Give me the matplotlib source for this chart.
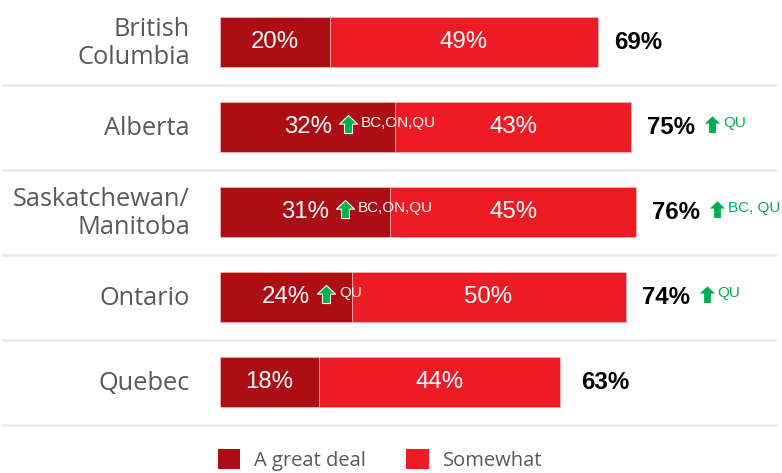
import matplotlib
matplotlib.use("Agg")
import matplotlib.pyplot as plt
from matplotlib.path import Path
from matplotlib.transforms import ScaledTranslation
from matplotlib.patches import Patch

# Survey results by province
regions = ["British\nColumbia", "Alberta", "Saskatchewan/\nManitoba", "Ontario", "Quebec"]
great_deal = [20, 32, 31, 24, 18]
somewhat = [49, 43, 45, 50, 44]
totals = [69, 75, 76, 74, 63]
# significance notes: (on "a great deal" segment, on total)
great_deal_notes = ["", "BC,ON,QU", "BC,ON,QU", "QU", ""]
total_notes = ["", "QU", "BC, QU", "QU", ""]
legend_labels = ["A great deal", "Somewhat"]

DARK = "#AD0E13"
BRIGHT = "#ED1C24"
GREEN = "#00B050"
GRAY = "#595959"
LINE = "#E8E8E8"

W, H = 782, 473
fig = plt.figure(figsize=(W / 100, H / 100), dpi=100)
ax = fig.add_axes([220 / W, (H - 424.5) / H, (W - 220) / W, 425 / H])
ax.set_xlim(0, (W - 220) / 5.48)
ax.set_ylim(4.5, -0.5)
ax.axis("off")

ypos = list(range(len(regions)))
edge = dict(edgecolor="#F2B8B8", linewidth=0.5)
b1 = ax.barh(ypos, great_deal, height=0.59, color=DARK, **edge)
b2 = ax.barh(ypos, somewhat, left=great_deal, height=0.59, color=BRIGHT, **edge)

# separators between rows
for y in [i + 0.5 for i in ypos]:
    ax.plot([-218 / 5.48, (W - 225) / 5.48], [y, y], color=LINE, lw=1.8,
            clip_on=False, solid_capstyle="butt", zorder=0)

# block-arrow marker
arrow = Path([(-0.22, -0.5), (0.22, -0.5), (0.22, 0.02), (0.5, 0.02),
              (0.0, 0.5), (-0.5, 0.02), (-0.22, 0.02), (-0.22, -0.5)],
             [Path.MOVETO] + [Path.LINETO] * 6 + [Path.CLOSEPOLY])


def offset(dx_px, dy_px):
    return ax.transData + ScaledTranslation(dx_px / 100, dy_px / 100, fig.dpi_scale_trans)


lab_font = dict(family=["Liberation Sans", "DejaVu Sans"])
for i, (g, s, t) in enumerate(zip(great_deal, somewhat, totals)):
    ax.text(g / 2, i, f"{g}%", color="white", fontsize=17.3, ha="center", va="center", **lab_font)
    ax.text(g + s / 2, i, f"{s}%", color="white", fontsize=17.3, ha="center", va="center", **lab_font)
    ax.text(t, i, f"{t}%", color="black", fontsize=17.3, fontweight="bold", ha="left", va="center",
            transform=offset(16, 0), **lab_font)
    if great_deal_notes[i]:
        ax.plot([g / 2], [i], marker=arrow, markersize=13, color=GREEN,
                markeredgecolor="white", markeredgewidth=0.8, transform=offset(40, 3.5))
        ax.text(g / 2, i, great_deal_notes[i], color="white", fontsize=11, ha="left", va="center",
                transform=offset(53, 4.5), **lab_font)
    if total_notes[i]:
        ax.plot([t], [i], marker=arrow, markersize=13, color=GREEN,
                markeredgecolor="white", markeredgewidth=0.8, transform=offset(81, 3.5))
        ax.text(t, i, total_notes[i], color=GREEN, fontsize=11, ha="left", va="center",
                transform=offset(92, 4.5), **lab_font)

cat_font = dict(family=["Open Sans", "DejaVu Sans"])
for i, name in enumerate(regions):
    ax.text(0, i, name, color=GRAY, fontsize=18.3, ha="right", va="center",
            linespacing=1.12, transform=offset(-30, -1.5), **cat_font)

handles = [Patch(facecolor=DARK), Patch(facecolor=BRIGHT)]
fig.legend(handles, legend_labels, loc="lower left", bbox_to_anchor=(218 / W, 2 / H),
           ncol=2, frameon=False, borderpad=0, borderaxespad=0,
           handlelength=1.1, handleheight=1.1, handletextpad=0.7, columnspacing=2.0,
           prop={"family": "Open Sans", "size": 14.5}, labelcolor=GRAY)

fig.savefig("out.png", dpi=100)
